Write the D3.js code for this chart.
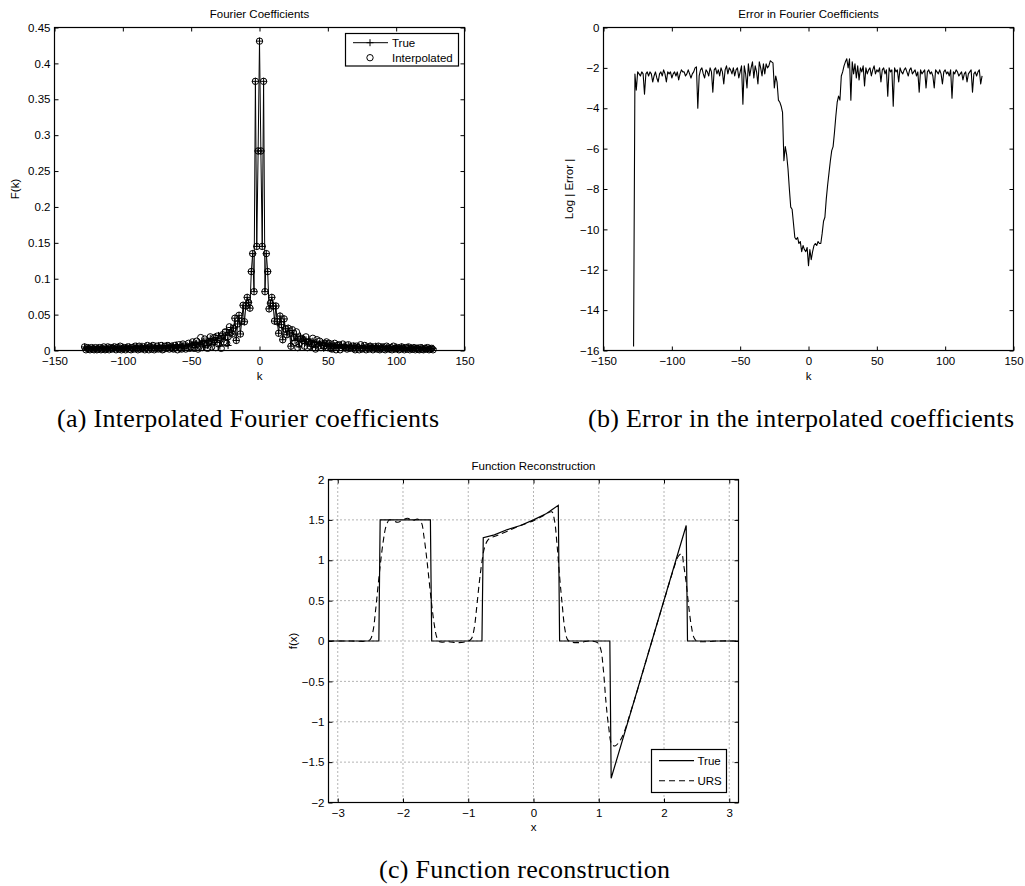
<!DOCTYPE html>
<html>
<head>
<meta charset="utf-8">
<script src="https://cdn.jsdelivr.net/npm/d3@7"></script>
<style>
  body { margin: 0; background: #fff; }
  svg { display: block; }
  text { font-family: "Liberation Sans", Arial, Helvetica, sans-serif; fill: #000; }
  .cap { font-family: "Liberation Serif", "Times New Roman", serif; font-size: 26px; }
  .tk text { font-size: 11.5px; }
  .tk line { stroke: #000; stroke-width: 1; }
</style>
</head>
<body>
<svg id="fig" width="1025" height="886"></svg>
<script>
// ---------- (a) Fourier coefficient magnitudes, k = -128 .. 127 ----------
const kFirst = -128;
const trueMag = [
  // k = -128 .. -51
  .005,.003,.002,.004,.003,.002,.004,.003,.002,.003,.004,.002,.003,.004,.003,.002,
  .004,.003,.004,.002,.004,.005,.003,.004,.002,.005,.004,.003,.005,.002,.004,.005,
  .003,.005,.004,.002,.005,.004,.006,.003,.005,.004,.006,.002,.005,.006,.004,.006,
  .003,.006,.005,.004,.006,.003,.007,.005,.004,.007,.006,.003,.007,.005,.006,.004,
  .007,.006,.003,.008,.006,.004,.008,.005,.007,.003,.008,.007,.005,.009,
  // k = -50 .. -1
  .009,.008,.011,.004,.010,.008,.011,.009,.013,.005,
  .012,.014,.007,.013,.017,.009,.016,.011,.018,.014,
  .021,.006,.017,.024,.015,.021,.029,.007,.025,.032,
  .023,.031,.045,.014,.037,.049,.023,.041,.063,.040,
  .062,.074,.067,.059,.110,.135,.082,.375,.145,.278,
  // k = 0 .. 50
  .431,.278,.145,.375,.082,.135,.110,.058,.066,.074,
  .062,.041,.062,.040,.024,.048,.036,.015,.044,.030,
  .022,.031,.024,.006,.028,.020,.014,.023,.016,.005,
  .020,.013,.017,.010,.015,.008,.016,.012,.006,.013,
  .011,.004,.012,.009,.010,.007,.011,.003,.010,.008,
  .009,
  // k = 51 .. 127
  .006,.008,.003,.009,.007,.005,.008,.004,.007,.008,.003,.007,.006,.004,.007,.005,
  .006,.003,.007,.006,.004,.006,.005,.003,.006,.005,.004,.006,.003,.005,.006,.004,
  .005,.003,.006,.004,.005,.002,.005,.004,.005,.003,.004,.005,.002,.004,.005,.003,
  .004,.005,.002,.004,.003,.005,.003,.004,.002,.004,.004,.003,.004,.002,.004,.003,
  .003,.004,.002,.003,.004,.002,.003,.004,.002,.003,.003,.002,.003
];
const interpMag = [
  // k = -128 .. -65
  .005,.001,.004,.002,.001,.004,.002,.001,.004,.001,.002,.004,.001,.002,.005,.001,
  .002,.005,.001,.004,.002,.003,.005,.001,.004,.002,.006,.001,.003,.004,.001,.003,
  .005,.002,.001,.004,.002,.006,.003,.001,.006,.002,.003,.005,.001,.003,.007,.001,
  .005,.002,.007,.001,.003,.006,.002,.003,.007,.001,.002,.006,.003,.007,.002,.005,
  // k = -64 .. -51
  .003,.002,.007,.004,.001,.008,.003,.002,.009,.006,.002,.004,.010,.003,
  // k = -50 .. -35
  .005,.012,.003,.008,.013,.002,.006,.018,.004,.010,.016,.008,.003,.012,.019,.005,
  // k = -34 .. -21
  .012,.018,.004,.020,.009,.015,.003,.022,.012,.026,.010,.019,.033,.025,
  // k = -20 .. -1
  .023,.031,.045,.014,.037,.049,.023,.041,.063,.040,.062,.074,.067,.059,.110,.135,.082,.375,.145,.278,
  // k = 0 .. 20
  .431,.278,.145,.375,.082,.135,.110,.058,.066,.074,.062,.041,.062,.040,.024,.048,.036,.015,.044,.030,.022,
  // k = 21 .. 116
  .031,.024,.006,.029,.018,.011,.026,.004,.009,.016,.017,.014,.006,.019,.004,.012,
  .006,.010,.017,.009,.002,.015,.006,.013,.004,.009,.006,.010,.012,.004,.010,.003,
  .002,.006,.010,.001,.007,.008,.001,.004,.009,.005,.004,.002,.008,.003,.004,.006,
  .003,.001,.006,.004,.001,.008,.002,.003,.007,.001,.004,.002,.006,.003,.001,.005,
  .003,.002,.006,.001,.003,.005,.002,.001,.006,.003,.002,.004,.001,.006,.002,.003,
  .004,.001,.002,.005,.003,.001,.004,.002,.005,.001,.003,.002,.004,.001,.003,.002,
  // k = 117 .. 127
  .001,.004,.002,.001,.003,.002,.004,.001,.002,.003,.001
];

// ---------- (b) log10 |error|, k = -128 .. 127 ----------
const logError = [
  -15.8,-2.3,-3.1,-2.2,-2.3,-2.4,-2.2,-2.3,-3.3,-2.3,-2.2,-2.4,-2.2,-2.3,-2.7,-2.4,
  -2.2,-2.5,-2.7,-2.3,-2.2,-2.4,-2.1,-2.3,-2.7,-2.2,-2.3,-2.2,-2.5,-2.3,-2.2,-2.4,
  -2.2,-2.6,-2.3,-2.1,-2.2,-2.2,-2.4,-2.3,-2.1,-2.3,-2.5,-2.3,-2.2,-2.0,-1.95,-4.0,
  -2.4,-2.1,-2.0,-2.3,-2.5,-2.1,-2.2,-2.4,-2.0,-2.2,-3.2,-2.1,-2.0,-2.3,-2.1,-2.4,
  -2.0,-2.2,-2.8,-2.1,-1.9,-2.3,-2.0,-2.1,-2.3,-2.0,-2.4,-2.1,-2.0,-2.5,-2.2,-1.9,
  -3.8,-1.9,-2.3,-3.0,-1.8,-2.4,-2.0,-1.7,-2.5,-1.9,-2.2,-2.8,-1.7,-2.0,-2.4,-1.8,
  -2.3,-1.8,-2.0,-1.9,-1.65,-1.7,-1.75,-3.0,-2.4,-2.7,-3.6,-3.7,-3.9,-4.2,-6.6,-5.9,
  -6.3,-7.0,-8.0,-8.9,-9.0,-9.7,-10.4,-10.5,-10.4,-10.7,-10.6,-11.1,-10.8,-11.0,-11.1,-10.9,
  -11.8,-11.0,-11.5,-11.1,-10.8,-10.7,-10.8,-10.6,-10.7,-10.7,-10.2,-9.6,-9.4,-8.5,-7.8,-7.2,
  -6.6,-6.1,-5.9,-5.2,-4.4,-3.7,-3.4,-3.6,-2.4,-2.2,-1.9,-1.7,-1.55,-2.0,-1.55,-3.6,
  -1.7,-2.3,-1.8,-2.5,-1.9,-2.6,-2.0,-2.2,-1.9,-2.9,-2.0,-2.3,-2.1,-2.0,-2.4,-2.1,
  -1.9,-2.3,-2.1,-2.2,-2.0,-2.7,-2.1,-2.0,-2.3,-2.1,-3.4,-2.0,-2.2,-2.1,-3.9,-2.0,
  -2.2,-2.1,-2.7,-2.0,-2.2,-2.3,-2.1,-2.0,-2.2,-2.4,-2.1,-2.0,-2.3,-2.2,-2.1,-2.4,
  -2.2,-3.2,-2.1,-2.3,-2.2,-2.1,-3.0,-2.2,-2.1,-2.3,-2.2,-2.4,-3.0,-2.1,-2.2,-2.3,
  -2.1,-2.3,-2.8,-2.2,-2.1,-2.3,-2.2,-2.4,-2.1,-3.5,-2.2,-2.3,-2.1,-2.2,-2.4,-2.3,
  -2.2,-2.6,-2.3,-2.2,-2.7,-2.3,-2.2,-2.1,-3.2,-2.3,-2.2,-2.4,-2.2,-2.1,-2.8,-2.4
];

// ---------- (c) function reconstruction on [-pi, pi] ----------
const trueX = [-3.1416,-2.37,-2.35,-1.58,-1.56,-0.79,-0.77,-0.6,-0.4,-0.2,0,0.2,0.38,0.40,1.17,1.19,2.34,2.36,3.1416];
const trueY = [0,0,1.5,1.5,0,0,1.28,1.315,1.38,1.43,1.50,1.58,1.68,0,0,-1.70,1.43,0,0];
const ursX = [-3.1416,-2.8,-2.55,-2.5,-2.46,-2.42,-2.38,-2.34,-2.3,-2.26,-2.21,-2.15,-2.08,-2.0,-1.93,-1.85,-1.78,-1.72,
  -1.68,-1.64,-1.6,-1.56,-1.52,-1.48,-1.44,-1.3,-1.15,-1.0,-0.95,-0.91,-0.87,-0.83,-0.79,-0.75,-0.7,-0.65,-0.55,-0.4,
  -0.2,0,0.15,0.28,0.32,0.36,0.4,0.44,0.48,0.52,0.56,0.7,0.85,0.98,1.03,1.07,1.11,1.15,1.2,1.25,1.35,1.5,1.8,2.0,
  2.15,2.22,2.27,2.3,2.34,2.38,2.42,2.46,2.5,2.6,2.8,3.1416];
const ursY = [0,0,0,0.02,0.12,0.38,0.7,1.0,1.25,1.42,1.5,1.49,1.47,1.5,1.52,1.49,1.51,1.47,
  1.3,1.05,0.75,0.45,0.2,0.04,-0.01,-0.01,-0.02,0,0.03,0.15,0.42,0.73,0.98,1.16,1.25,1.28,1.31,1.36,
  1.43,1.49,1.55,1.6,1.5,1.2,0.8,0.45,0.15,0.02,-0.01,-0.02,0,-0.02,-0.1,-0.35,-0.75,-1.05,-1.28,-1.3,-1.2,-0.85,-0.04,0.5,
  0.9,1.05,1.08,0.95,0.72,0.42,0.18,0.04,0,-0.01,0,0];

// ---------- ticks ----------
const kTicks = [-150,-100,-50,0,50,100,150];
const kTickLabels = ["\u2212150","\u2212100","\u221250","0","50","100","150"];
const magTicks = [0,0.05,0.1,0.15,0.2,0.25,0.3,0.35,0.4,0.45];
const magTickLabels = ["0","0.05","0.1","0.15","0.2","0.25","0.3","0.35","0.4","0.45"];
const errTicks = [-16,-14,-12,-10,-8,-6,-4,-2,0];
const errTickLabels = ["\u221216","\u221214","\u221212","\u221210","\u22128","\u22126","\u22124","\u22122","0"];
const xTicksC = [-3,-2,-1,0,1,2,3];
const xTickLabelsC = ["\u22123","\u22122","\u22121","0","1","2","3"];
const fTicksC = [-2,-1.5,-1,-0.5,0,0.5,1,1.5,2];
const fTickLabelsC = ["\u22122","\u22121.5","\u22121","\u22120.5","0","0.5","1","1.5","2"];

const svg = d3.select("#fig");
svg.append("rect").attr("width", 1025).attr("height", 886).attr("fill", "#fff");

const labelOf = (ticks, labels) => d => labels[ticks.indexOf(d)];

function frame(g, x, y, o) {
  const [xl, xr] = x.range();
  const [yb, yt] = y.range();
  const style = sel => {
    sel.attr("font-size", null).attr("font-family", null).attr("class", "tk");
    sel.select(".domain").remove();
  };
  g.append("g").attr("transform", `translate(0,${yb})`)
    .call(d3.axisBottom(x).tickValues(o.xTicks).tickFormat(labelOf(o.xTicks, o.xLabels))
      .tickSizeInner(-4).tickSizeOuter(0).tickPadding(6.5)).call(style);
  g.append("g").attr("transform", `translate(0,${yt})`)
    .call(d3.axisTop(x).tickValues(o.xTicks).tickFormat("").tickSizeInner(-4).tickSizeOuter(0)).call(style);
  g.append("g").attr("transform", `translate(${xl},0)`)
    .call(d3.axisLeft(y).tickValues(o.yTicks).tickFormat(labelOf(o.yTicks, o.yLabels))
      .tickSizeInner(-4).tickSizeOuter(0).tickPadding(4)).call(style);
  g.append("g").attr("transform", `translate(${xr},0)`)
    .call(d3.axisRight(y).tickValues(o.yTicks).tickFormat("").tickSizeInner(-4).tickSizeOuter(0)).call(style);
  g.append("rect").attr("x", xl).attr("y", yt).attr("width", xr - xl).attr("height", yb - yt)
    .attr("fill", "none").attr("stroke", "#000").attr("stroke-width", 1.2);

  const cx = (xl + xr) / 2;
  g.append("text").attr("x", cx).attr("y", o.titleY).attr("dy", "0.35em")
    .attr("text-anchor", "middle").attr("font-size", 11.5).text(o.title);
  g.append("text").attr("x", cx).attr("y", o.xLabelY).attr("dy", "0.35em")
    .attr("text-anchor", "middle").attr("font-size", 11.5).text(o.xLabel);
  g.append("text").attr("transform", `translate(${o.yLabelX},${(yb + yt) / 2}) rotate(-90)`)
    .attr("dy", "0.35em").attr("text-anchor", "middle").attr("font-size", 11.5).text(o.yLabel);
}

const kValues = d3.range(kFirst, kFirst + trueMag.length);

// ---------- panel (a) ----------
{
  const x = d3.scaleLinear().domain([-150, 150]).range([54.5, 464.5]);
  const y = d3.scaleLinear().domain([0, 0.45]).range([350.5, 27.5]);
  const g = svg.append("g");
  const line = d3.line().x((d, i) => x(kValues[i])).y(d => y(d));
  g.append("path").datum(trueMag).attr("d", line).attr("fill", "none")
    .attr("stroke", "#000").attr("stroke-width", 1);
  g.selectAll(".pl").data(trueMag).join("path")
    .attr("d", (d, i) => `M${x(kValues[i]) - 3.5},${y(d)}h7M${x(kValues[i])},${y(d) - 3.5}v7`)
    .attr("stroke", "#000").attr("stroke-width", 1).attr("fill", "none");
  g.selectAll(".ci").data(interpMag).join("circle")
    .attr("cx", (d, i) => x(kValues[i])).attr("cy", d => y(d)).attr("r", 3.2)
    .attr("fill", "none").attr("stroke", "#000").attr("stroke-width", 1);

  frame(g, x, y, {
    xTicks: kTicks, xLabels: kTickLabels, yTicks: magTicks, yLabels: magTickLabels,
    title: "Fourier Coefficients", titleY: 14, xLabel: "k", xLabelY: 376,
    yLabel: "F(k)", yLabelX: 15
  });

  // legend
  const lg = g.append("g");
  lg.append("rect").attr("x", 345.5).attr("y", 33.5).attr("width", 113).attr("height", 32.5)
    .attr("fill", "#fff").attr("stroke", "#000").attr("stroke-width", 1.2);
  lg.append("line").attr("x1", 353).attr("x2", 388).attr("y1", 42.7).attr("y2", 42.7)
    .attr("stroke", "#000").attr("stroke-width", 1);
  lg.append("path").attr("d", "M366.5,42.7h7M370,39.2v7").attr("stroke", "#000").attr("stroke-width", 1);
  lg.append("circle").attr("cx", 370).attr("cy", 57.7).attr("r", 3.2)
    .attr("fill", "none").attr("stroke", "#000").attr("stroke-width", 1);
  lg.append("text").attr("x", 392).attr("y", 42.7).attr("dy", "0.35em").attr("font-size", 11.5).text("True");
  lg.append("text").attr("x", 392).attr("y", 57.7).attr("dy", "0.35em").attr("font-size", 11.5).text("Interpolated");
}

// ---------- panel (b) ----------
{
  const x = d3.scaleLinear().domain([-150, 150]).range([603.5, 1013.5]);
  const y = d3.scaleLinear().domain([-16, 0]).range([350.5, 27.5]);
  const g = svg.append("g");
  const line = d3.line().x((d, i) => x(kValues[i])).y(d => y(d));
  g.append("path").datum(logError).attr("d", line).attr("fill", "none")
    .attr("stroke", "#000").attr("stroke-width", 1.1).attr("stroke-linejoin", "round");
  frame(g, x, y, {
    xTicks: kTicks, xLabels: kTickLabels, yTicks: errTicks, yLabels: errTickLabels,
    title: "Error in Fourier Coefficients", titleY: 14, xLabel: "k", xLabelY: 376,
    yLabel: "Log | Error |", yLabelX: 568.7
  });
}

// ---------- panel (c) ----------
{
  const x = d3.scaleLinear().domain([-Math.PI, Math.PI]).range([328.5, 738.5]);
  const y = d3.scaleLinear().domain([-2, 2]).range([802.5, 479.5]);
  const g = svg.append("g");
  const gg = g.append("g").attr("stroke", "#444").attr("stroke-width", 0.8).attr("stroke-dasharray", "1,3");
  gg.selectAll(".gx").data(xTicksC).join("line")
    .attr("x1", d => x(d)).attr("x2", d => x(d)).attr("y1", 479.5).attr("y2", 802.5);
  gg.selectAll(".gy").data(fTicksC).join("line")
    .attr("x1", 328.5).attr("x2", 738.5).attr("y1", d => y(d)).attr("y2", d => y(d));

  const line = d3.line().x(d => x(d[0])).y(d => y(d[1]));
  g.append("path").datum(trueX.map((v, i) => [v, trueY[i]])).attr("d", line)
    .attr("fill", "none").attr("stroke", "#000").attr("stroke-width", 1.2);
  g.append("path").datum(ursX.map((v, i) => [v, ursY[i]]))
    .attr("d", line.curve(d3.curveCatmullRom.alpha(0.5)))
    .attr("fill", "none").attr("stroke", "#000").attr("stroke-width", 1.1).attr("stroke-dasharray", "6,4");

  frame(g, x, y, {
    xTicks: xTicksC, xLabels: xTickLabelsC, yTicks: fTicksC, yLabels: fTickLabelsC,
    title: "Function Reconstruction", titleY: 466, xLabel: "x", xLabelY: 826.7,
    yLabel: "f(x)", yLabelX: 293.3
  });

  const lg = g.append("g");
  lg.append("rect").attr("x", 651.5).attr("y", 749.5).attr("width", 75).attr("height", 43)
    .attr("fill", "#fff").attr("stroke", "#000").attr("stroke-width", 1.2);
  lg.append("line").attr("x1", 659).attr("x2", 694).attr("y1", 760.7).attr("y2", 760.7)
    .attr("stroke", "#000").attr("stroke-width", 1.2);
  lg.append("line").attr("x1", 659).attr("x2", 694).attr("y1", 780.7).attr("y2", 780.7)
    .attr("stroke", "#000").attr("stroke-width", 1.1).attr("stroke-dasharray", "6,4");
  lg.append("text").attr("x", 697.5).attr("y", 760.7).attr("dy", "0.35em").attr("font-size", 11.5).text("True");
  lg.append("text").attr("x", 697.5).attr("y", 780.7).attr("dy", "0.35em").attr("font-size", 11.5).text("URS");
}

// ---------- sub-figure captions ----------
svg.append("text").attr("class", "cap").attr("x", 439).attr("y", 427).attr("text-anchor", "end")
  .attr("textLength", 382).attr("lengthAdjust", "spacing").text("(a) Interpolated Fourier coefficients");
svg.append("text").attr("class", "cap").attr("x", 588).attr("y", 427)
  .attr("textLength", 426).attr("lengthAdjust", "spacing").text("(b) Error in the interpolated coefficients");
svg.append("text").attr("class", "cap").attr("x", 379).attr("y", 878)
  .attr("textLength", 291).attr("lengthAdjust", "spacing").text("(c) Function reconstruction");
</script>
</body>
</html>
